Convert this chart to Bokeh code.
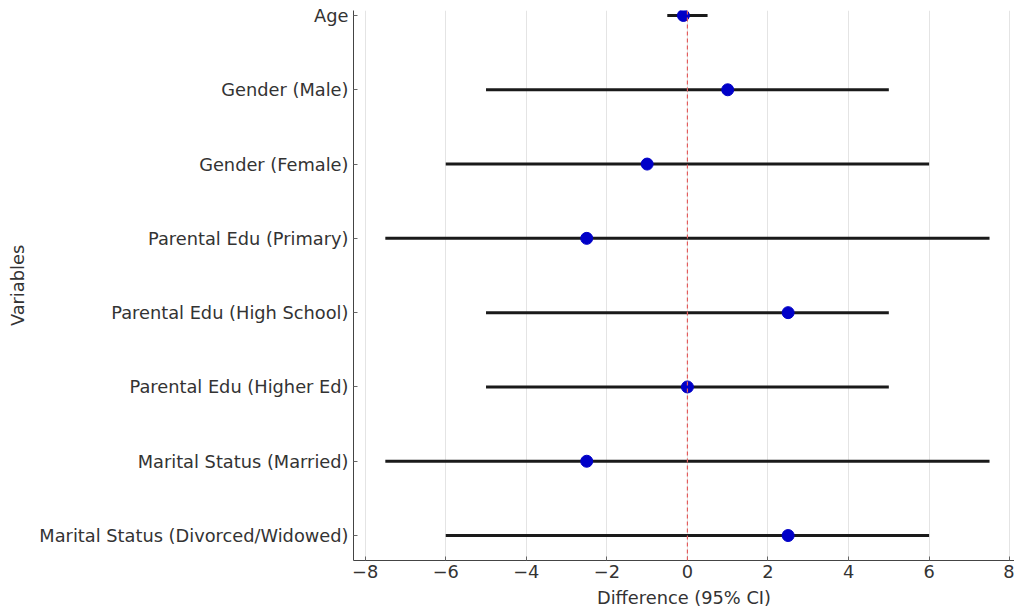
from bokeh.plotting import figure
from bokeh.models import Range1d, FixedTicker, Span, ColumnDataSource
from bokeh.embed import file_html
from bokeh.resources import INLINE

variables = ["Age", "Gender (Male)", "Gender (Female)", "Parental Edu (Primary)",
             "Parental Edu (High School)", "Parental Edu (Higher Ed)",
             "Marital Status (Married)", "Marital Status (Divorced/Widowed)"]
estimate = [-0.1, 1.0, -1.0, -2.5, 2.5, 0.0, -2.5, 2.5]
ci_low = [-0.5, -5.0, -6.0, -7.5, -5.0, -5.0, -7.5, -6.0]
ci_high = [0.5, 5.0, 6.0, 7.5, 5.0, 5.0, 7.5, 6.0]
x_ticks = [-8, -6, -4, -2, 0, 2, 4, 6, 8]

pos = list(range(len(variables)))
src = ColumnDataSource(dict(y=pos, est=estimate, lo=ci_low, hi=ci_high))

FONT = "DejaVu Sans"
FS = "17.8px"
TXT = "#333333"

p = figure(width=1014, height=615, output_backend="svg", toolbar_location=None,
           x_range=Range1d(-8.29, 8.12), y_range=Range1d(7.336, -0.067),
           min_border_left=353, min_border_right=0, min_border_top=10,
           min_border_bottom=55)
p.outline_line_color = None
p.background_fill_color = "white"

p.segment(x0="lo", x1="hi", y0="y", y1="y", source=src, line_color="#1a1a1a",
          line_width=3)
p.scatter(x="est", y="y", source=src, size=12, fill_color="#0000c8",
          line_color="#0000c8")
p.add_layout(Span(location=0, dimension="height", line_color="#e35d5d",
                  line_dash="4 3", line_width=1.2, line_alpha=1.0))

p.xaxis.ticker = FixedTicker(ticks=x_ticks)
p.yaxis.ticker = FixedTicker(ticks=pos)
p.yaxis.major_label_overrides = {i: v for i, v in enumerate(variables)}
p.xaxis.major_label_overrides = {t: str(t).replace("-", "\u2212") for t in x_ticks}

p.xaxis.axis_label = "Difference (95% CI)"
p.yaxis.axis_label = "Variables"

for ax in (p.xaxis, p.yaxis):
    ax.axis_line_color = "#444444"
    ax.axis_line_width = 1
    ax.major_tick_in = 4
    ax.major_tick_out = 0
    ax.major_tick_line_color = "#666666"
    ax.minor_tick_line_color = None
    ax.major_label_text_font = FONT
    ax.major_label_text_font_size = FS
    ax.major_label_text_color = TXT
    ax.axis_label_text_font = FONT
    ax.axis_label_text_font_size = FS
    ax.axis_label_text_font_style = "normal"
    ax.axis_label_text_color = TXT

p.yaxis.major_label_standoff = 5
p.yaxis.axis_label_standoff = 8
p.xaxis.major_label_standoff = 4
p.xaxis.axis_label_standoff = 6

p.xgrid.grid_line_color = "#e4e4e4"
p.xgrid.grid_line_width = 1
p.ygrid.grid_line_color = None

open("out.html", "w").write(file_html(p, INLINE))
